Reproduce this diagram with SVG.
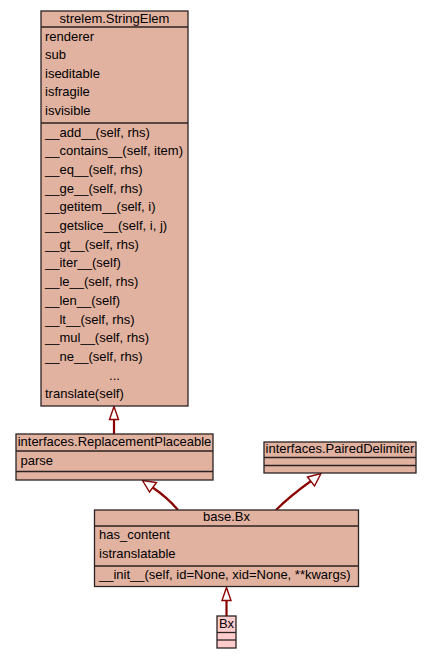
<svg xmlns="http://www.w3.org/2000/svg" width="432" height="659" viewBox="0 0 432 659">
  <style>
    .box { fill: #e1b2a0; stroke: #2b2222; stroke-width: 1.3; }
    .leaf { fill: #ffcccc; stroke: #2b2222; stroke-width: 1.3; }
    .sep { stroke: #2b2222; stroke-width: 1.3; fill: none; }
    text { font-family: "Liberation Sans", Arial, sans-serif; font-size: 13px; fill: #000; }
    .c { text-anchor: middle; }
    .edge { stroke: #8b0000; stroke-width: 2.2; fill: none; }
    .head { fill: #ffffff; stroke: #8b0000; stroke-width: 1.4; }
  </style>

  <!-- inheritance connectors, each with a hollow triangle at the parent end -->
  <g id="edges">
    <path class="edge" d="M114,434 L114,419"/>
    <path class="head" d="M114,406.5 L109.5,419.5 L118.5,419.5 Z"/>

    <path class="edge" d="M178,510 Q168,498 152,487"/>
    <path class="head" d="M142.5,480.5 L156.5,482.5 L149.5,492 Z"/>

    <path class="edge" d="M276,510 Q290,496 311,481"/>
    <path class="head" d="M321,473.5 L314.5,486 L307.5,477 Z"/>

    <path class="edge" d="M226.5,616 L226.5,600"/>
    <path class="head" d="M226.5,587.5 L222,600.5 L231,600.5 Z"/>
  </g>

  <!-- strelem.StringElem -->
  <g id="strelem.StringElem">
    <rect class="box" x="41" y="11" width="147" height="395"/>
    <line class="sep" x1="41" y1="27" x2="188" y2="27"/>
    <line class="sep" x1="41" y1="123" x2="188" y2="123"/>
    <text class="c" x="114.5" y="23">strelem.StringElem</text>
    <text x="45" y="40.5">renderer</text>
    <text x="45" y="59.1">sub</text>
    <text x="45" y="77.7">iseditable</text>
    <text x="45" y="96.3">isfragile</text>
    <text x="45" y="114.9">isvisible</text>
    <text x="45" y="136.5">__add__(self, rhs)</text>
    <text x="45" y="155.2">__contains__(self, item)</text>
    <text x="45" y="173.9">__eq__(self, rhs)</text>
    <text x="45" y="192.6">__ge__(self, rhs)</text>
    <text x="45" y="211.3">__getitem__(self, i)</text>
    <text x="45" y="230">__getslice__(self, i, j)</text>
    <text x="45" y="248.7">__gt__(self, rhs)</text>
    <text x="45" y="267.4">__iter__(self)</text>
    <text x="45" y="286.1">__le__(self, rhs)</text>
    <text x="45" y="304.8">__len__(self)</text>
    <text x="45" y="323.5">__lt__(self, rhs)</text>
    <text x="45" y="342.2">__mul__(self, rhs)</text>
    <text x="45" y="360.9">__ne__(self, rhs)</text>
    <text class="c" x="114.5" y="379.6">...</text>
    <text x="45" y="398.3">translate(self)</text>
  </g>

  <!-- interfaces.ReplacementPlaceable -->
  <g id="interfaces.ReplacementPlaceable">
    <rect class="box" x="16" y="434" width="197" height="46"/>
    <line class="sep" x1="16" y1="451" x2="213" y2="451"/>
    <line class="sep" x1="16" y1="471.5" x2="213" y2="471.5"/>
    <text class="c" x="114.5" y="446">interfaces.ReplacementPlaceable</text>
    <text x="20.5" y="465">parse</text>
  </g>

  <!-- interfaces.PairedDelimiter -->
  <g id="interfaces.PairedDelimiter">
    <rect class="box" x="264" y="442" width="152" height="31"/>
    <line class="sep" x1="264" y1="457.5" x2="416" y2="457.5"/>
    <line class="sep" x1="264" y1="465.5" x2="416" y2="465.5"/>
    <text class="c" x="340" y="453">interfaces.PairedDelimiter</text>
  </g>

  <!-- base.Bx -->
  <g id="base.Bx">
    <rect class="box" x="94.5" y="510" width="264" height="76.5"/>
    <line class="sep" x1="94.5" y1="526" x2="358.5" y2="526"/>
    <line class="sep" x1="94.5" y1="566" x2="358.5" y2="566"/>
    <text class="c" x="226.5" y="521">base.Bx</text>
    <text x="99" y="539">has_content</text>
    <text x="99" y="557.5">istranslatable</text>
    <text x="99" y="579">__init__(self, id=None, xid=None, **kwargs)</text>
  </g>

  <!-- Bx -->
  <g id="Bx">
    <rect class="leaf" x="217" y="616" width="19" height="32"/>
    <line class="sep" x1="217" y1="632.5" x2="236" y2="632.5"/>
    <line class="sep" x1="217" y1="640" x2="236" y2="640"/>
    <text class="c" x="226.5" y="627.5">Bx</text>
  </g>
</svg>
